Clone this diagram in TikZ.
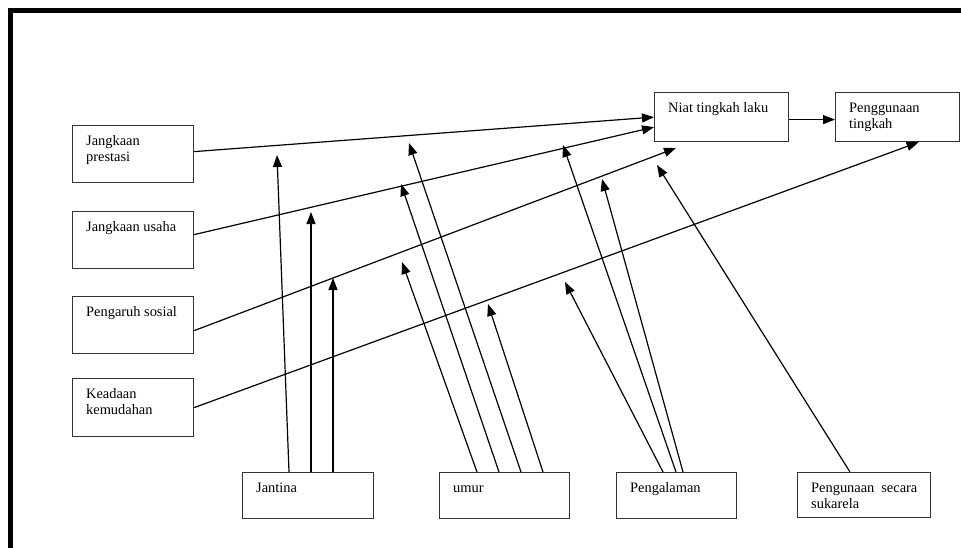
\documentclass[tikz,border=0pt]{standalone}
\usepackage{fontspec}
\setmainfont{Liberation Serif}
\usetikzlibrary{arrows.meta}

\tikzset{
  kotak/.style={draw=black!80, line width=1.2pt, anchor=north west, inner sep=0pt},
  tulis/.style={anchor=north west, inner sep=0pt, align=left,
                font=\fontsize{14.4}{16}\selectfont},
  panah/.style={-{Triangle[length=12pt,width=9pt]}, line width=1.2pt},
}

\begin{document}
\begin{tikzpicture}[x=1pt,y=-1pt]
\useasboundingbox (0,0) rectangle (961,547);

% bingkai
\draw[line width=5pt] (10,560) -- (10,10.5) -- (975,10.5);

% kotak-kotak
\foreach \nama/\x/\y/\w/\h/\teks in {
    prestasi/72/125/121/57/{Jangkaan\\prestasi},
    usaha/72/211/121/57/{Jangkaan usaha},
    sosial/72/296/121/57/{Pengaruh sosial},
    keadaan/72/378/121/58/{Keadaan\\kemudahan},
    jantina/242/472/131/46/{Jantina},
    umur/439/472/130/46/{umur},
    pengalaman/616/472/120/46/{Pengalaman},
    sukarela/797/472/133/45/{Pengunaan\hspace{7pt}secara\\sukarela},
    niat/654/92/134/49/{Niat tingkah laku},
    guna/835/92/124/49/{Penggunaan\\tingkah}}
{
  \node[kotak, minimum width=\w pt, minimum height=\h pt] (\nama) at (\x,\y) {};
  \node[tulis] (t\nama) at ([shift={(14pt,-8.8pt)}]\nama.north west) {\strut\teks};
}

% ujung panah moderator
\coordinate (csosial) at (676,148);
\coordinate (jan1) at (277,155);
\coordinate (jan2) at (311,212);
\coordinate (jan3) at (333,278);
\coordinate (umr1) at (402,262);
\coordinate (umr2) at (401,184);
\coordinate (umr3) at (409,143);
\coordinate (umr4) at (488,304);
\coordinate (pgl1) at (565,282);
\coordinate (pgl2) at (563,145);
\coordinate (pgl3) at (602,179);
\coordinate (skr) at (657,165);

% panah utama
\draw[panah] ([yshift=2.5pt]prestasi.east) -- (niat.west);
\draw[panah] ([yshift=5.5pt]usaha.east) -- ([yshift=-10pt]niat.west);
\draw[panah] ([yshift=-5.5pt]sosial.east) -- (csosial);
\draw[panah] (keadaan.east) -- ([xshift=21pt]guna.south);
\draw[panah] ([yshift=-2.5pt]niat.east) -- ([yshift=-2.5pt]guna.west);

% panah moderator
\foreach \asal/\dx/\ujung in {jantina/47/jan1, jantina/69/jan2, jantina/91/jan3,
    umur/38/umr1, umur/60/umr2, umur/82/umr3, umur/104/umr4,
    pengalaman/47/pgl1, pengalaman/60/pgl2, pengalaman/67/pgl3,
    sukarela/53/skr}
{
  \draw[panah] ([xshift=\dx pt]\asal.north west) -- (\ujung);
}
\end{tikzpicture}
\end{document}
